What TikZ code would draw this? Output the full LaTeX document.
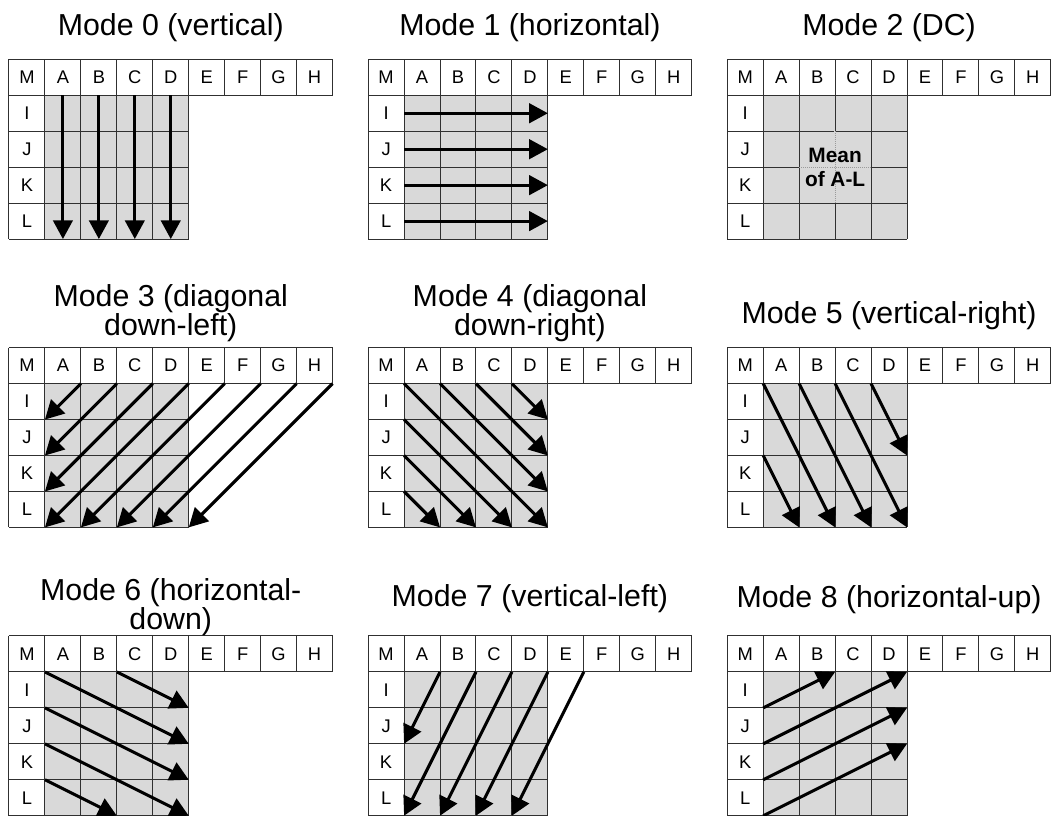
\documentclass[tikz,border=0pt]{standalone}
\usepackage{fontspec}
\setmainfont{Liberation Sans}
\usepackage{tikz}
\usetikzlibrary{arrows.meta,calc}
\usepackage{xcolor}
\definecolor{cellgray}{HTML}{D9D9D9}
\definecolor{linegray}{HTML}{303030}
\definecolor{dotgray}{HTML}{9A9A9A}

% one prediction grid: name, left x, top y (cells, y points down)
\newcommand{\predgrid}[3]{%
  \begin{scope}[shift={(#2,#3)}]
    \fill[cellgray] (1,1) rectangle (5,5);
    \foreach \c in {0,...,9} \draw[gridline] (\c,0) -- (\c,1);
    \foreach \c in {0,...,5} \draw[gridline] (\c,1) -- (\c,5);
    \draw[gridline] (0,0) -- (9,0);
    \draw[gridline] (0,1) -- (9,1);
    \foreach \r in {2,...,5} \draw[gridline] (0,\r) -- (5,\r);
    \foreach \l [count=\c from 0] in {M,A,B,C,D,E,F,G,H}
      \node[cellfont] (#1-\l) at (\c+0.5,0.5) {\l};
    \foreach \l [count=\r from 1] in {I,J,K,L}
      \node[cellfont] (#1-\l) at (0.5,\r+0.5) {\l};
    \foreach \c in {0,...,9} \foreach \r in {0,...,5}
      \coordinate (#1-\c-\r) at (\c,\r);
    \coordinate (#1-top) at (4.5,0);
  \end{scope}}

\begin{document}
\begin{tikzpicture}[x=1cm, y=-1cm,
    gridline/.style={linegray, line width=0.8pt},
    cellfont/.style={font=\fontsize{14.5}{17}\selectfont, inner sep=0pt},
    titlefont/.style={font=\fontsize{24}{22.5}\selectfont, anchor=base, align=center, inner sep=0pt},
    ray/.style={line width=2.4pt, -{Triangle[length=0.52cm, width=0.54cm]}}]
\useasboundingbox (0,0) rectangle (29.235,22.698);

% Grids
\predgrid{p0}{0.25}{1.65}
\predgrid{p1}{10.24}{1.65}
\predgrid{p2}{20.23}{1.65}
\predgrid{p3}{0.25}{9.67}
\predgrid{p4}{10.24}{9.67}
\predgrid{p5}{20.23}{9.67}
\predgrid{p6}{0.25}{17.69}
\predgrid{p7}{10.24}{17.69}
\predgrid{p8}{20.23}{17.69}

% Titles (base = last line)
\node[titlefont] (t0) at ([yshift=0.66cm]p0-top) {Mode 0 (vertical)};
\node[titlefont] (t1) at ([yshift=0.66cm]p1-top) {Mode 1 (horizontal)};
\node[titlefont] (t2) at ([yshift=0.66cm]p2-top) {Mode 2 (DC)};
\node[titlefont] (t3) at ([yshift=0.35cm]p3-top) {Mode 3 (diagonal\\down-left)};
\node[titlefont] (t4) at ([yshift=0.35cm]p4-top) {Mode 4 (diagonal\\down-right)};
\node[titlefont] (t5) at ([yshift=0.68cm]p5-top) {Mode 5 (vertical-right)};
\node[titlefont] (t6) at ([yshift=0.19cm]p6-top) {Mode 6 (horizontal-\\down)};
\node[titlefont] (t7) at ([yshift=0.81cm]p7-top) {Mode 7 (vertical-left)};
\node[titlefont] (t8) at ([yshift=0.79cm]p8-top) {Mode 8 (horizontal-up)};

% Mode 0
\foreach \c in {1,...,4}
  \draw[ray] ([xshift=0.5cm]p0-\c-1) -- ([xshift=0.5cm]p0-\c-5);

% Mode 1
\foreach \r in {1,...,4}
  \draw[ray] ([yshift=-0.5cm]p1-1-\r) -- ([yshift=-0.5cm]p1-5-\r);

% Mode 2
\draw[cellgray, line width=1.8pt, shorten <=0.5pt, shorten >=0.5pt]
  (p2-3-2) -- (p2-3-4) (p2-2-3) -- (p2-4-3);
\draw[dotgray, densely dotted, line width=0.6pt]
  (p2-3-2) -- (p2-3-4) (p2-2-3) -- (p2-4-3);
\node[font=\bfseries\fontsize{16.5}{19}\selectfont, align=center, inner sep=0pt]
  (dc) at (p2-3-3) {Mean\\of A-L};

% Mode 3
\foreach \a/\b in {2-1/1-2, 3-1/1-3, 4-1/1-4, 5-1/1-5, 6-1/2-5, 7-1/3-5, 8-1/4-5, 9-1/5-5}
  \draw[ray] (p3-\a) -- (p3-\b);

% Mode 4
\foreach \a/\b in {1-1/5-5, 2-1/5-4, 3-1/5-3, 4-1/5-2, 1-2/4-5, 1-3/3-5, 1-4/2-5}
  \draw[ray] (p4-\a) -- (p4-\b);

% Mode 5
\foreach \a/\b in {1-1/3-5, 2-1/4-5, 3-1/5-5, 4-1/5-3, 1-3/2-5}
  \draw[ray] (p5-\a) -- (p5-\b);

% Mode 6
\foreach \a/\b in {1-1/5-3, 3-1/5-2, 1-2/5-4, 1-3/5-5, 1-4/3-5}
  \draw[ray] (p6-\a) -- (p6-\b);

% Mode 7
\foreach \a/\b in {2-1/1-3, 3-1/1-5, 4-1/2-5, 5-1/3-5, 6-1/4-5}
  \draw[ray] (p7-\a) -- (p7-\b);

% Mode 8
\foreach \a/\b in {1-2/3-1, 1-3/5-1, 1-4/5-2, 1-5/5-3}
  \draw[ray] (p8-\a) -- (p8-\b);
\end{tikzpicture}
\end{document}
